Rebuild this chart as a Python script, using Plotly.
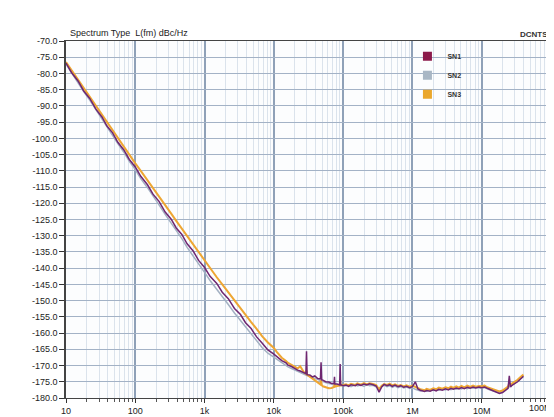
import plotly.graph_objects as go

# ---------------- data ----------------
FREQ_HZ = [
    10, 12, 15, 18, 22, 27, 33, 39, 47, 56, 68, 82,
    100, 120, 150, 180, 220, 270, 330, 390, 470, 560, 680, 820,
    1000, 1200, 1500, 1800, 2200, 2700, 3300, 3900, 4700, 5600, 6800, 8200,
    10000, 11000, 12000, 13000, 15000, 16000, 18000, 20000, 22000, 24000, 27000,
    29000, 29600, 30200, 33000, 36000, 39000, 43000, 47000, 48000, 49000, 51000,
    56000, 62000, 68000, 74000, 75000, 76000, 82000, 89000, 90500, 92000, 100000,
    110e3, 120e3, 130e3, 150e3, 160e3, 180e3, 200e3, 220e3, 240e3, 270e3, 300e3, 330e3,
    360e3, 390e3, 430e3, 470e3, 510e3, 560e3, 620e3, 680e3, 750e3, 820e3, 910e3,
    1.0e6, 1.1e6, 1.2e6, 1.3e6, 1.5e6, 1.6e6, 1.8e6, 2.0e6, 2.2e6, 2.4e6, 2.7e6, 3.0e6,
    3.3e6, 3.6e6, 3.9e6, 4.3e6, 4.7e6, 5.1e6, 5.6e6, 6.2e6, 6.8e6, 7.5e6, 8.2e6, 9.1e6,
    10e6, 11e6, 12e6, 13e6, 15e6, 16e6, 18e6, 20e6, 22e6, 24e6, 25e6, 26e6, 27e6,
    30e6, 33e6, 36e6, 40e6,
]

SN1_DBC = [
    -76.8, -79.7, -82.4, -85.4, -87.7, -91.0, -93.4, -96.2, -98.3, -101.2, -103.5, -106.5,
    -108.8, -111.7, -114.3, -117.2, -119.4, -122.7, -124.9, -127.6, -129.6, -132.5, -134.6, -137.6,
    -139.8, -142.5, -144.7, -147.4, -149.4, -152.4, -154.3, -156.8, -158.6, -161.1, -163.1, -165.2,
    -166.5, -167.3, -167.8, -168.5, -169.2, -169.9, -170.3, -171.0, -171.4, -171.7, -172.3,
    -172.5, -165.6, -172.8, -172.9, -173.5, -173.2, -174.0, -174.1, -169.0, -174.4, -174.5,
    -175.0, -175.1, -175.5, -175.5, -173.5, -175.7, -175.7, -176.0, -169.5, -175.9, -176.2,
    -176.0, -176.4, -175.9, -176.2, -175.8, -176.1, -175.7, -176.0, -175.6, -175.9, -176.3, -178.2,
    -176.6, -175.8, -176.2, -175.9, -176.4, -176.0, -176.5, -176.2, -176.7, -176.4, -176.8,
    -176.5, -175.0, -177.2, -177.6, -178.0, -177.7, -177.9, -177.5, -177.8, -177.3, -177.6, -177.2,
    -177.5, -177.0, -177.3, -176.9, -177.2, -176.8, -177.1, -176.7, -177.0, -176.6, -176.9, -176.6,
    -176.8, -176.6, -177.0, -177.3, -177.8, -178.2, -178.6, -178.3, -177.6, -177.0, -173.2, -176.6, -176.2,
    -175.6, -175.0, -174.2, -173.3,
]

SN2_DBC = [
    -77.1, -79.8, -82.8, -85.6, -88.2, -91.2, -94.0, -96.6, -99.0, -101.6, -104.2, -107.1,
    -109.6, -112.4, -115.2, -117.9, -120.5, -123.4, -126.0, -128.5, -130.9, -133.6, -136.1, -138.7,
    -141.3, -143.8, -146.4, -148.8, -151.2, -153.8, -156.1, -158.2, -160.3, -162.4, -164.5, -166.2,
    -167.5, -168.1, -168.7, -169.1, -170.0, -170.4, -170.9, -171.4, -171.8, -172.1, -172.6,
    -172.9, -173.0, -173.0, -173.4, -173.7, -173.9, -174.3, -174.6, -174.6, -174.7, -174.9,
    -175.2, -175.5, -175.7, -175.8, -175.8, -175.9, -176.0, -176.1, -176.1, -176.2, -176.3,
    -176.2, -176.0, -176.5, -175.9, -176.3, -176.0, -176.4, -175.8, -176.2, -176.1, -176.6, -177.0,
    -176.3, -176.1, -176.5, -176.2, -176.7, -176.3, -176.8, -176.5, -176.9, -176.6, -177.0,
    -176.9, -177.3, -177.5, -177.8, -177.6, -177.9, -177.4, -177.7, -177.3, -177.6, -177.2, -177.5,
    -177.1, -177.4, -177.0, -177.3, -176.9, -177.2, -176.8, -177.1, -176.7, -177.0, -176.8, -176.9,
    -177.0, -176.8, -177.2, -177.5, -177.9, -178.0, -178.3, -178.0, -177.4, -176.9, -176.5, -176.3, -176.0,
    -175.4, -174.8, -174.0, -173.5,
]

SN3_DBC = [
    -76.5, -79.0, -82.0, -84.6, -87.1, -90.0, -92.7, -95.0, -97.5, -99.9, -102.6, -105.0,
    -107.7, -110.0, -113.0, -115.3, -117.9, -120.6, -123.2, -125.4, -127.8, -130.2, -132.8, -135.2,
    -137.9, -140.1, -142.8, -145.0, -147.5, -150.0, -152.4, -154.4, -156.6, -158.6, -161.0, -162.9,
    -164.6, -165.8, -166.8, -167.6, -168.6, -169.2, -169.8, -170.4, -170.9, -170.2, -172.0,
    -172.5, -171.5, -172.8, -173.4, -174.0, -174.6, -175.2, -175.8, -174.6, -176.0, -176.4,
    -176.8, -177.0, -176.9, -176.6, -175.5, -176.5, -176.3, -176.2, -174.5, -176.1, -176.0,
    -175.8, -176.1, -175.6, -176.0, -175.5, -175.9, -175.4, -175.8, -175.5, -175.7, -176.0, -177.4,
    -176.2, -175.7, -176.0, -175.6, -176.1, -175.8, -176.3, -176.0, -176.4, -176.1, -176.5,
    -176.2, -176.6, -177.0, -177.3, -177.6, -177.2, -177.5, -177.0, -177.3, -176.8, -177.1, -176.7,
    -177.0, -176.5, -176.9, -176.4, -176.8, -176.3, -176.7, -176.2, -176.6, -176.2, -176.5, -176.3,
    -176.4, -176.2, -176.7, -177.0, -177.4, -177.7, -178.0, -177.7, -177.0, -176.5, -175.5, -176.0, -175.6,
    -175.0, -174.4, -173.6, -172.8,
]

SERIES_NAMES = ["SN1", "SN2", "SN3"]
X_DECADES = [10, 100, 1e3, 1e4, 1e5, 1e6, 1e7, 1e8]
X_TICK_TEXT = ["10", "100", "1k", "10k", "100k", "1M", "10M", "100M"]
Y_MIN, Y_MAX, Y_STEP = -180.0, -70.0, 5.0

assert len(FREQ_HZ) == len(SN1_DBC) == len(SN2_DBC) == len(SN3_DBC)

# ---------------- styles ----------------
LINE_COLORS = {"SN1": "#6e2670", "SN2": "#a3b1c3", "SN3": "#eea633"}
LEGEND_COLORS = {"SN1": "#8c1a4b", "SN2": "#a9b7c5", "SN3": "#eaa72c"}
LINE_WIDTHS = {"SN1": 1.5, "SN2": 1.5, "SN3": 2.0}
FONT = "Liberation Sans, Arial, sans-serif"

series = {"SN1": SN1_DBC, "SN2": SN2_DBC, "SN3": SN3_DBC}

fig = go.Figure()
# drawing order: grey, orange, purple on top
for name in ["SN2", "SN3", "SN1"]:
    fig.add_trace(go.Scatter(
        x=FREQ_HZ, y=series[name], mode="lines", name=name, showlegend=False,
        line=dict(color=LINE_COLORS[name], width=LINE_WIDTHS[name]),
    ))
# legend entries with square swatches
for name in SERIES_NAMES:
    fig.add_trace(go.Scatter(
        x=[None], y=[None], mode="markers", name=name, showlegend=True,
        marker=dict(symbol="square", size=9, color=LEGEND_COLORS[name]),
    ))

minor_vals = [d * k for d in X_DECADES[:-1] for k in range(2, 10)]
y_ticks = []
v = Y_MIN
while v <= Y_MAX + 1e-9:
    y_ticks.append(v)
    v += Y_STEP
y_text = [f"{t:.1f}" for t in y_ticks]

fig.update_layout(
    width=554, height=417,
    margin=dict(l=58, r=9, t=33, b=17),
    paper_bgcolor="white",
    plot_bgcolor="#fcfdfe",
    font=dict(family=FONT, size=9, color="#222222"),
    showlegend=True,
    legend=dict(
        x=0.704, y=0.998, xanchor="left", yanchor="top",
        bgcolor="rgba(0,0,0,0)", borderwidth=0,
        font=dict(family=FONT, size=7, color="#333333", weight="bold"),
        itemwidth=30, tracegroupgap=0,
    ),
    xaxis=dict(
        type="log", range=[1, 8],
        tickmode="array", tickvals=X_DECADES[:-1], ticktext=X_TICK_TEXT[:-1],
        ticks="outside", ticklen=4, tickcolor="#333333",
        tickfont=dict(family=FONT, size=9, color="#222222"),
        showgrid=True, gridcolor="#8fa1b8", gridwidth=1.5,
        showline=True, linecolor="#444444", linewidth=1.2, mirror=True,
        zeroline=False,
        minor=dict(tickmode="array", tickvals=minor_vals, ticks="outside", ticklen=3,
                   tickcolor="#555555", showgrid=True, gridcolor="#dbe3ec", gridwidth=1),
    ),
    yaxis=dict(
        range=[Y_MIN, Y_MAX],
        tickmode="array", tickvals=y_ticks, ticktext=y_text,
        ticks="outside", ticklen=5, tickcolor="#333333",
        tickfont=dict(family=FONT, size=9, color="#222222"),
        showgrid=True, gridcolor="#a3b2c6", gridwidth=1.3,
        showline=True, linecolor="#444444", linewidth=1.5, mirror=True,
        zeroline=False,
    ),
    annotations=[
        dict(text="Spectrum Type \u00a0L(fm) dBc/Hz", xref="paper", yref="paper",
             x=0.004, y=1.0, xanchor="left", yanchor="bottom", yshift=1,
             showarrow=False, font=dict(family=FONT, size=9, color="#222222")),
        dict(text="<b>DCNTS</b>", xref="paper", yref="paper",
             x=0.997, y=1.0, xanchor="right", yanchor="bottom", yshift=0,
             showarrow=False, font=dict(family=FONT, size=8, color="#333333")),
        # last decade label, kept inside the page edge
        dict(text=X_TICK_TEXT[-1], xref="paper", yref="paper",
             x=1.0, y=0, xanchor="right", yanchor="top", xshift=3, yshift=-3,
             showarrow=False, font=dict(family=FONT, size=9, color="#222222")),
    ],
)

fig.write_html("out.html")
